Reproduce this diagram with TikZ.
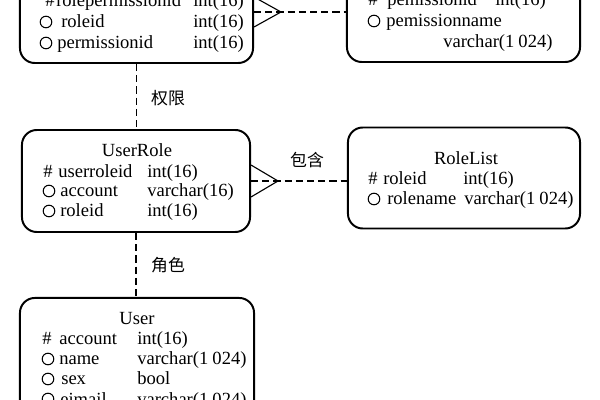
\documentclass[tikz,border=0pt]{standalone}
\usepackage{fontspec}
\setmainfont{Liberation Serif}
\newfontfamily\cjk{Noto Sans CJK SC}
\begin{document}
\begin{tikzpicture}[x=0.025cm,y=-0.025cm,
  ent/.style={draw, line width=1.4pt, rounded corners=0.37cm, inner sep=0pt},
  txt/.style={anchor=base west, inner sep=0pt, font=\fontsize{13.2}{15}\selectfont},
  ttl/.style={anchor=base, inner sep=0pt, font=\fontsize{13.2}{15}\selectfont},
  lbl/.style={inner sep=0pt, font=\cjk\fontsize{12}{14}\selectfont},
  oc/.style={circle, draw, line width=0.75pt, minimum size=0.29cm, inner sep=0pt},
  rel/.style={line width=0.8pt, dash pattern=on 0.18cm off 0.1cm},
  foot/.style={line width=0.8pt}]
\fill[white] (0,0) rectangle (600,400);
\useasboundingbox (0,0) rectangle (600,400);
% boxes
\node[ent, minimum width=5.825cm, minimum height=2.55cm] (RP) at (136.5,12) {};
\node[ent, minimum width=5.825cm, minimum height=2.55cm] (PL) at (463.5,11) {};
\node[ent, minimum width=5.7cm, minimum height=2.55cm] (UR) at (136,181) {};
\node[ent, minimum width=5.8cm, minimum height=2.525cm] (RL) at (464,178) {};
\node[ent, minimum width=5.85cm, minimum height=3.5cm] (US) at (137,368) {};
% RolePermission rows
\node[txt] (rp1a) at (45,7) {\#};
\node[txt] (rp1b) at (56,7) {rolepermissionid};
\node[txt] (rp1c) at (193,7) {int(16)};
\node[oc] (rp2a) at (46,22) {};
\node[txt] (rp2b) at (61,28) {roleid};
\node[txt] (rp2c) at (193,28) {int(16)};
\node[oc] (rp3a) at (46,43) {};
\node[txt] (rp3b) at (57,49) {permissionid};
\node[txt] (rp3c) at (193,49) {int(16)};
% PermissionList rows
\node[txt] (pl1a) at (368,6) {\#};
\node[txt] (pl1b) at (387,6) {pemissionid};
\node[txt] (pl1c) at (495,6) {int(16)};
\node[oc] (pl2a) at (374,21) {};
\node[txt] (pl2b) at (386,27) {pemissionname};
\node[txt] (pl3c) at (443,48) {varchar(1\hspace{0.22em}024)};
% UserRole
\node[ttl] (urt) at (137,157) {UserRole};
\node[txt] (ur1a) at (43,177.5) {\#};
\node[txt] (ur1b) at (58,177.5) {userroleid};
\node[txt] (ur1c) at (147,177.5) {int(16)};
\node[oc] (ur2a) at (49,191) {};
\node[txt] (ur2b) at (60,197) {account};
\node[txt] (ur2c) at (147,197) {varchar(16)};
\node[oc] (ur3a) at (49,211) {};
\node[txt] (ur3b) at (60,217) {roleid};
\node[txt] (ur3c) at (147,217) {int(16)};
% RoleList
\node[ttl] (rlt) at (466,165) {RoleList};
\node[txt] (rl1a) at (368,185) {\#};
\node[txt] (rl1b) at (383,185) {roleid};
\node[txt] (rl1c) at (463,185) {int(16)};
\node[oc] (rl2a) at (374,199) {};
\node[txt] (rl2b) at (387,205) {rolename};
\node[txt] (rl2c) at (464,205) {varchar(1\hspace{0.22em}024)};
% User
\node[ttl] (ust) at (137,325) {User};
\node[txt] (us1a) at (42,345) {\#};
\node[txt] (us1b) at (59,345) {account};
\node[txt] (us1c) at (137,345) {int(16)};
\node[oc] (us2a) at (48,359) {};
\node[txt] (us2b) at (59,365) {name};
\node[txt] (us2c) at (137,365) {varchar(1\hspace{0.22em}024)};
\node[oc] (us3a) at (48,379) {};
\node[txt] (us3b) at (61,385) {sex};
\node[txt] (us3c) at (137,385) {bool};
\node[oc] (us4a) at (48,399) {};
\node[txt] (us4b) at (60,405) {eimail};
\node[txt] (us4c) at (137,405) {varchar(1\hspace{0.22em}024)};
% relation labels
\node[lbl] (l1) at (168,98) {权限};
\node[lbl] (l2) at (168,265) {角色};
\node[lbl] (l3) at (307,160) {包含};
% connectors
\draw[rel] (RP.south) -- (RP.south |- UR.north);
\draw[rel] (UR.south) -- (UR.south |- US.north);
\draw[rel] (RP.east) -- (RP.east -| PL.west);
\draw[rel] (UR.east) -- (UR.east -| RL.west);
\draw[foot] (RP.east) ++(0,-15) -- ++(27,15) -- ++(-27,15);
\draw[foot] (UR.east) ++(0,-16) -- ++(27,16) -- ++(-27,16);
\end{tikzpicture}
\end{document}
